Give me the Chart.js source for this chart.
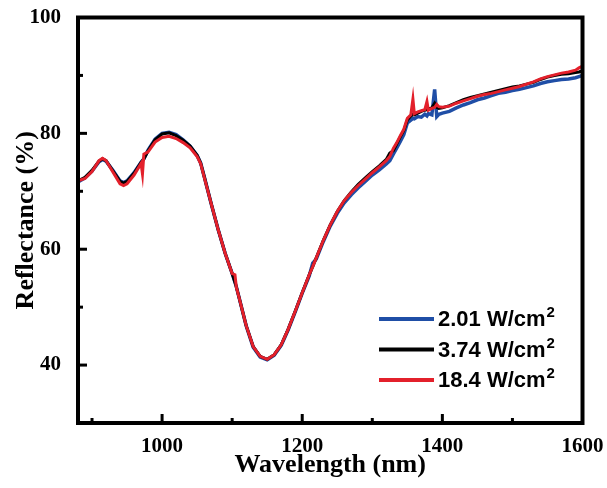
<!DOCTYPE html>
<html>
<head>
<meta charset="utf-8">
<script src="https://cdn.jsdelivr.net/npm/chart.js@4.4.1/dist/chart.umd.min.js"></script>
<style>
html, body { margin: 0; padding: 0; background: #fff; }
</style>
</head>
<body>
<canvas id="chart" width="607" height="488"></canvas>
<script>
// wavelength grid (nm), shared by all three spectra
const wavelength = [
  880, 890, 900, 910, 915, 920, 930, 940, 945,
  950, 960, 970, 972, 974, 980, 990, 1000, 1010,
  1020, 1030, 1040, 1050, 1055, 1060, 1070, 1080, 1090,
  1100, 1104, 1106, 1110, 1120, 1130, 1140, 1150, 1160, 1170,
  1180, 1190, 1200, 1210, 1215, 1220, 1230, 1240, 1250, 1260,
  1270, 1280, 1290, 1300, 1310, 1320, 1325, 1330, 1335, 1340,
  1345, 1350, 1355, 1358, 1360, 1365, 1370, 1375, 1378, 1380,
  1385, 1389, 1392, 1395, 1400, 1410, 1420, 1430, 1440, 1450, 1460,
  1470, 1480, 1490, 1500, 1510, 1520, 1530, 1540, 1550, 1560,
  1570, 1580, 1590, 1595, 1600
];

// reflectance (%)
const refl201 = [
  71.6, 72.3, 73.5, 75.1, 75.5, 75.2, 73.6, 71.8, 71.5,
  71.8, 73.2, 75.0, 75.3, 75.6, 77.1, 79.0, 80.0, 80.2,
  79.8, 78.9, 77.8, 76.2, 74.9, 72.6, 67.9, 63.4, 59.3,
  55.8, 54.3, 53.5, 51.6, 46.8, 43.1, 41.4, 40.9, 41.7, 43.4,
  46.1, 49.2, 52.4, 55.4, 57.6, 58.3, 61.3, 64.0, 66.2, 68.0,
  69.4, 70.6, 71.7, 72.8, 73.7, 74.7, 75.3, 76.4, 77.5, 78.6,
  79.8, 81.8, 82.3, 82.6, 82.5, 82.9, 82.8, 83.3, 83.0, 83.4,
  83.2, 87.6, 82.9, 83.3, 83.5, 83.8, 84.4, 84.9, 85.3, 85.8, 86.1,
  86.5, 86.9, 87.1, 87.4, 87.6, 87.9, 88.2, 88.6, 88.9, 89.1,
  89.3, 89.4, 89.6, 89.8, 90.0
];
const refl374 = [
  71.8, 72.4, 73.6, 75.2, 75.6, 75.3, 73.5, 71.7, 71.4,
  71.7, 73.1, 75.0, 75.3, 75.6, 77.0, 78.9, 79.9, 80.1,
  79.6, 78.8, 77.8, 76.2, 74.9, 72.6, 67.9, 63.4, 59.3,
  55.8, 54.3, 53.5, 51.6, 46.8, 43.2, 41.5, 41.0, 41.8, 43.5,
  46.2, 49.3, 52.5, 55.6, 57.0, 58.5, 61.5, 64.2, 66.5, 68.4,
  69.9, 71.2, 72.3, 73.4, 74.4, 75.5, 76.6, 77.0, 78.2, 79.4,
  80.5, 82.3, 83.0, 83.3, 83.2, 83.5, 83.8, 84.0, 84.1, 84.2,
  84.4, 85.2, 84.5, 84.3, 84.4, 84.8, 85.3, 85.8, 86.2, 86.5, 86.8,
  87.1, 87.4, 87.7, 88.0, 88.2, 88.5, 88.8, 89.3, 89.7, 90.0,
  90.2, 90.3, 90.5, 90.6, 90.8
];
const refl184 = [
  71.8, 72.2, 73.4, 75.3, 75.7, 75.3, 73.3, 71.3, 71.0,
  71.3, 72.8, 74.8, 73.0, 76.4, 76.8, 78.5, 79.3, 79.5,
  79.1, 78.4, 77.5, 76.0, 74.8, 72.5, 67.9, 63.4, 59.3,
  55.8, 55.6, 53.4, 51.6, 46.8, 43.2, 41.5, 41.0, 41.8, 43.5,
  46.2, 49.3, 52.5, 55.6, 57.0, 58.5, 61.5, 64.2, 66.5, 68.4,
  69.8, 71.0, 72.1, 73.2, 74.2, 75.3, 76.0, 77.4, 78.4, 79.6,
  80.7, 82.6, 83.2, 85.9, 83.4, 83.7, 83.9, 84.1, 85.5, 84.0,
  84.3, 84.5, 85.0, 84.6, 84.5, 84.7, 85.2, 85.6, 86.0, 86.4, 86.7,
  86.9, 87.2, 87.5, 87.8, 88.1, 88.5, 88.9, 89.4, 89.8, 90.1,
  90.4, 90.6, 90.9, 91.3, 91.6
];

const seriesLabels = ['2.01 W/cm²', '3.74 W/cm²', '18.4 W/cm²'];
const seriesColors = ['#1f4ea6', '#000000', '#e3202b'];

const xTicks = [1000, 1200, 1400, 1600];
const xMinorTicks = [900, 1100, 1300, 1500];
const yTicks = [40, 60, 80, 100];
const yMinorTicks = [50, 70, 90];

const serif = 'Liberation Serif';

function points(ys) {
  return wavelength.map((w, i) => ({ x: w, y: ys[i] }));
}

// thick box + inward tick marks
const framePlugin = {
  id: 'frame',
  afterDatasetsDraw(chart) {
    const { ctx, chartArea: a, scales: { x, y } } = chart;
    ctx.save();
    ctx.strokeStyle = '#000';
    const seg = (x1, y1, x2, y2, w) => {
      ctx.lineWidth = w;
      ctx.beginPath();
      ctx.moveTo(x1, y1);
      ctx.lineTo(x2, y2);
      ctx.stroke();
    };
    xTicks.forEach(v => { const p = x.getPixelForValue(v); seg(p, a.bottom, p, a.bottom - 9, 3); });
    xMinorTicks.forEach(v => { const p = x.getPixelForValue(v); seg(p, a.bottom, p, a.bottom - 5, 3); });
    yTicks.forEach(v => { const p = y.getPixelForValue(v); seg(a.left, p, a.left + 9, p, 3); });
    yMinorTicks.forEach(v => { const p = y.getPixelForValue(v); seg(a.left, p, a.left + 5, p, 3); });
    ctx.lineWidth = 4;
    ctx.strokeRect(a.left, a.top, a.right - a.left, a.bottom - a.top);
    ctx.restore();
  }
};

// legend inside the plot, with the "2" raised
const legendPlugin = {
  id: 'insideLegend',
  afterDraw(chart) {
    const ctx = chart.ctx;
    ctx.save();
    chart.data.datasets.forEach((ds, i) => {
      const yRow = 319 + i * 30.5;
      ctx.strokeStyle = ds.borderColor;
      ctx.lineWidth = 4;
      ctx.beginPath();
      ctx.moveTo(379, yRow);
      ctx.lineTo(434, yRow);
      ctx.stroke();
      const main = ds.label.replace('²', '');
      ctx.fillStyle = '#000';
      ctx.textBaseline = 'alphabetic';
      ctx.font = 'bold 22px "Liberation Sans"';
      ctx.fillText(main, 438, yRow + 7);
      const w = ctx.measureText(main).width;
      ctx.font = 'bold 15px "Liberation Sans"';
      ctx.fillText('2', 438 + w + 1, yRow - 2);
    });
    ctx.restore();
  }
};

new Chart(document.getElementById('chart'), {
  type: 'line',
  data: {
    datasets: [
      { label: seriesLabels[0], data: points(refl201), borderColor: seriesColors[0], borderWidth: 3.5, order: 3 },
      { label: seriesLabels[1], data: points(refl374), borderColor: seriesColors[1], order: 2 },
      { label: seriesLabels[2], data: points(refl184), borderColor: seriesColors[2], order: 1 }
    ]
  },
  options: {
    responsive: false,
    animation: false,
    elements: {
      point: { radius: 0 },
      line: { borderWidth: 3, tension: 0 }
    },
    layout: { padding: { top: 17.5, right: 24.5, left: 0, bottom: 0 } },
    plugins: {
      legend: { display: false },
      tooltip: { enabled: false }
    },
    scales: {
      x: {
        type: 'linear',
        min: 880,
        max: 1600,
        afterBuildTicks: s => { s.ticks = xTicks.map(v => ({ value: v })); },
        afterFit: s => { s.height = 65; s.paddingLeft = 0; s.paddingRight = 0; },
        grid: { display: false },
        border: { display: false },
        ticks: {
          color: '#000',
          padding: 3,
          maxRotation: 0,
          autoSkip: false,
          callback: v => String(v),
          font: { family: serif, size: 21, weight: 'bold' }
        },
        title: {
          display: true,
          text: 'Wavelength (nm)',
          color: '#000',
          font: { family: serif, size: 26, weight: 'bold' },
          padding: { top: 0, bottom: 7 }
        }
      },
      y: {
        min: 30,
        max: 100,
        afterBuildTicks: s => { s.ticks = yTicks.map(v => ({ value: v })); },
        afterFit: s => { s.width = 78; s.paddingTop = 0; s.paddingBottom = 0; },
        grid: { display: false },
        border: { display: false },
        ticks: {
          color: '#000',
          padding: 9,
          callback: v => String(v),
          font: { family: serif, size: 21, weight: 'bold' }
        },
        title: {
          display: true,
          text: 'Reflectance (%)',
          color: '#000',
          font: { family: serif, size: 26, weight: 'bold' },
          padding: { top: 11, bottom: 0 }
        }
      }
    }
  },
  plugins: [framePlugin, legendPlugin]
});
</script>
</body>
</html>
